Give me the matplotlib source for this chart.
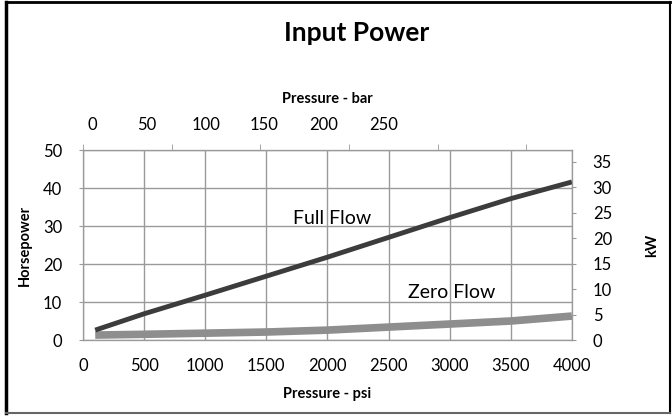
import matplotlib.pyplot as plt
from matplotlib.lines import Line2D

plt.rcParams['font.family'] = ['Lato', 'DejaVu Sans']

# data
pressure_psi = [100, 500, 1000, 1500, 2000, 2500, 3000, 3500, 4000]
full_flow_hp = [2.6, 6.9, 11.8, 16.8, 21.8, 27.0, 32.2, 37.2, 41.6]
zero_flow_hp = [1.3, 1.5, 1.8, 2.1, 2.6, 3.4, 4.2, 5.0, 6.3]

psi_ticks = [0, 500, 1000, 1500, 2000, 2500, 3000, 3500, 4000]
hp_ticks = [0, 10, 20, 30, 40, 50]
kw_ticks = [0, 5, 10, 15, 20, 25, 30, 35]
bar_ticks = [0, 50, 100, 150, 200, 250]
bar_label_psi = [80, 520, 1010, 1480, 1970, 2460]  # where Excel put the bar labels

PSI_PER_BAR = 14.5038
KW_PER_HP = 0.7457

fig = plt.figure(figsize=(6.72, 4.18), dpi=100)
ax = fig.add_axes([0.1235, 0.1866, 0.7275, 0.4545])

grid_c = '#9a9a9a'
ax.plot(pressure_psi, zero_flow_hp, color='#8e8e8e', lw=5.5, solid_capstyle='butt', zorder=3)
ax.plot(pressure_psi, full_flow_hp, color='#3c3c3c', lw=3.5, solid_capstyle='butt', zorder=4)

ax.set_xlim(0, 4000)
ax.set_ylim(0, 50)
ax.set_xticks(psi_ticks)
ax.set_yticks(hp_ticks)
ax.grid(True, color=grid_c, lw=1)
ax.set_axisbelow(True)
for s in ax.spines.values():
    s.set_color(grid_c)
ax.tick_params(axis='x', length=0, pad=13, labelsize=12)
ax.tick_params(axis='y', length=3, color=grid_c, pad=12, labelsize=12)
ax.set_xlabel('Pressure - psi', fontweight='bold', fontsize=10.5, labelpad=9)
ax.set_ylabel('Horsepower', fontweight='bold', fontsize=10.5, labelpad=8)

ax.text(2040, 32.1, 'Full Flow', ha='center', va='center', fontsize=14, zorder=5)
ax.text(3020, 12.6, 'Zero Flow', ha='center', va='center', fontsize=14, zorder=5)

# right axis in kW
axr = ax.twinx()
axr.set_ylim(0, 50 * KW_PER_HP)
axr.set_yticks(kw_ticks)
axr.tick_params(axis='y', length=3, color=grid_c, pad=12, labelsize=12)
axr.set_ylabel('kW', fontweight='bold', fontsize=10.5, labelpad=24)
for s in axr.spines.values():
    s.set_color(grid_c)

# top axis in bar
axt = ax.twiny()
axt.set_xlim(0, 4000)
axt.set_xticks(bar_label_psi)
axt.set_xticklabels([str(b) for b in bar_ticks])
axt.set_xticks([b * PSI_PER_BAR for b in bar_ticks], minor=True)
axt.tick_params(axis='x', which='major', length=0, pad=12, labelsize=12)
axt.tick_params(axis='x', which='minor', length=4, color=grid_c)
axt.set_xlabel('Pressure - bar', fontweight='bold', fontsize=10.5, labelpad=10)
for s in axt.spines.values():
    s.set_color(grid_c)

fig.text(0.531, 0.921, 'Input Power', ha='center', va='center', fontsize=19, fontweight='bold')

# outer frame
fig.add_artist(Line2D([0.009, 0.009], [0.012, 0.995], color='black', lw=2.5, transform=fig.transFigure))
fig.add_artist(Line2D([0.009, 0.997], [0.995, 0.995], color='black', lw=2, transform=fig.transFigure))
fig.add_artist(Line2D([0.997, 0.997], [0.012, 0.995], color='black', lw=1.5, transform=fig.transFigure))
fig.add_artist(Line2D([0.009, 0.997], [0.012, 0.012], color='#666666', lw=1.5, transform=fig.transFigure))

fig.savefig('out.png', dpi=100)
